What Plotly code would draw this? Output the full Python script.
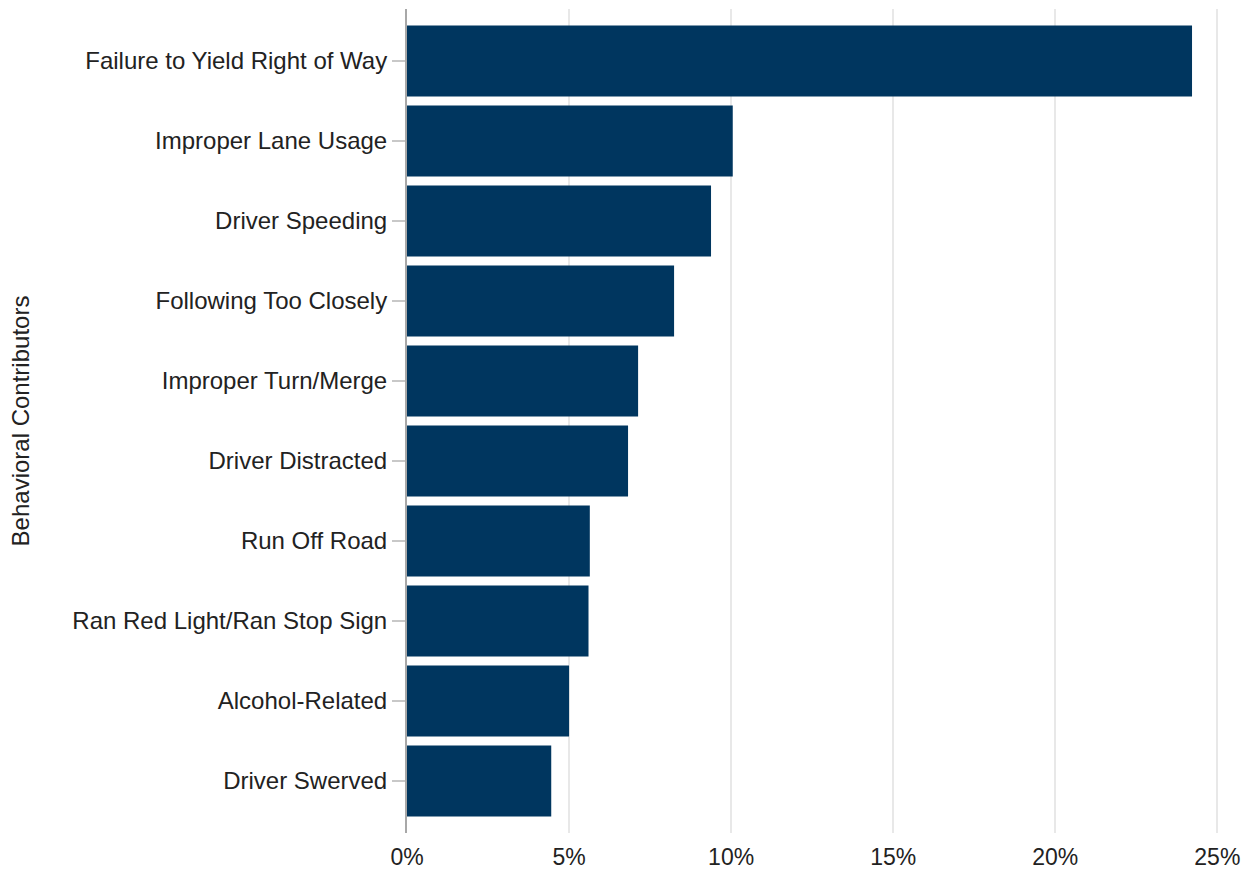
import plotly.graph_objects as go

# Behavioral contributors to crashes, share of total (percent)
categories = [
    "Failure to Yield Right of Way",
    "Improper Lane Usage",
    "Driver Speeding",
    "Following Too Closely",
    "Improper Turn/Merge",
    "Driver Distracted",
    "Run Off Road",
    "Ran Red Light/Ran Stop Sign",
    "Alcohol-Related",
    "Driver Swerved",
]
shares = [24.22, 10.05, 9.38, 8.24, 7.13, 6.82, 5.64, 5.60, 5.00, 4.45]

x_tick_values = [0, 5, 10, 15, 20, 25]
x_tick_labels = ["0%", "5%", "10%", "15%", "20%", "25%"]

FONT = "Liberation Sans, Arial, sans-serif"
TEXT = "#222222"
BAR = "#00365f"
SIZE = 24

fig = go.Figure(
    go.Bar(
        x=shares,
        y=categories,
        orientation="h",
        marker=dict(color=BAR, line=dict(width=0)),
        hoverinfo="x+y",
    )
)

fig.update_layout(
    width=1259,
    height=877,
    margin=dict(l=407, r=19, t=9, b=44),
    paper_bgcolor="white",
    plot_bgcolor="white",
    bargap=0.11,
    showlegend=False,
    font=dict(family=FONT, size=SIZE, color=TEXT),
)

fig.update_xaxes(
    range=[0, 25.7],
    tickvals=x_tick_values,
    ticktext=x_tick_labels,
    showgrid=True,
    gridcolor="#e8e8e8",
    gridwidth=2,
    zeroline=False,
    showline=False,
    ticks="outside",
    ticklen=3,
    tickcolor="rgba(0,0,0,0)",
    tickfont=dict(family=FONT, size=23, color=TEXT),
    automargin=False,
)

fig.update_yaxes(
    type="category",
    categoryorder="array",
    categoryarray=categories,
    range=[9.65, -0.65],
    showgrid=False,
    zeroline=False,
    showline=True,
    linecolor="#a8a8a8",
    linewidth=2,
    ticks="outside",
    ticklen=13,
    tickwidth=2,
    tickcolor="#c8c8c8",
    tickfont=dict(family=FONT, size=SIZE, color=TEXT),
    title=dict(
        text="Behavioral Contributors",
        font=dict(family=FONT, size=SIZE, color=TEXT),
        standoff=36,
    ),
    automargin=False,
)

fig.write_html("out.html")
